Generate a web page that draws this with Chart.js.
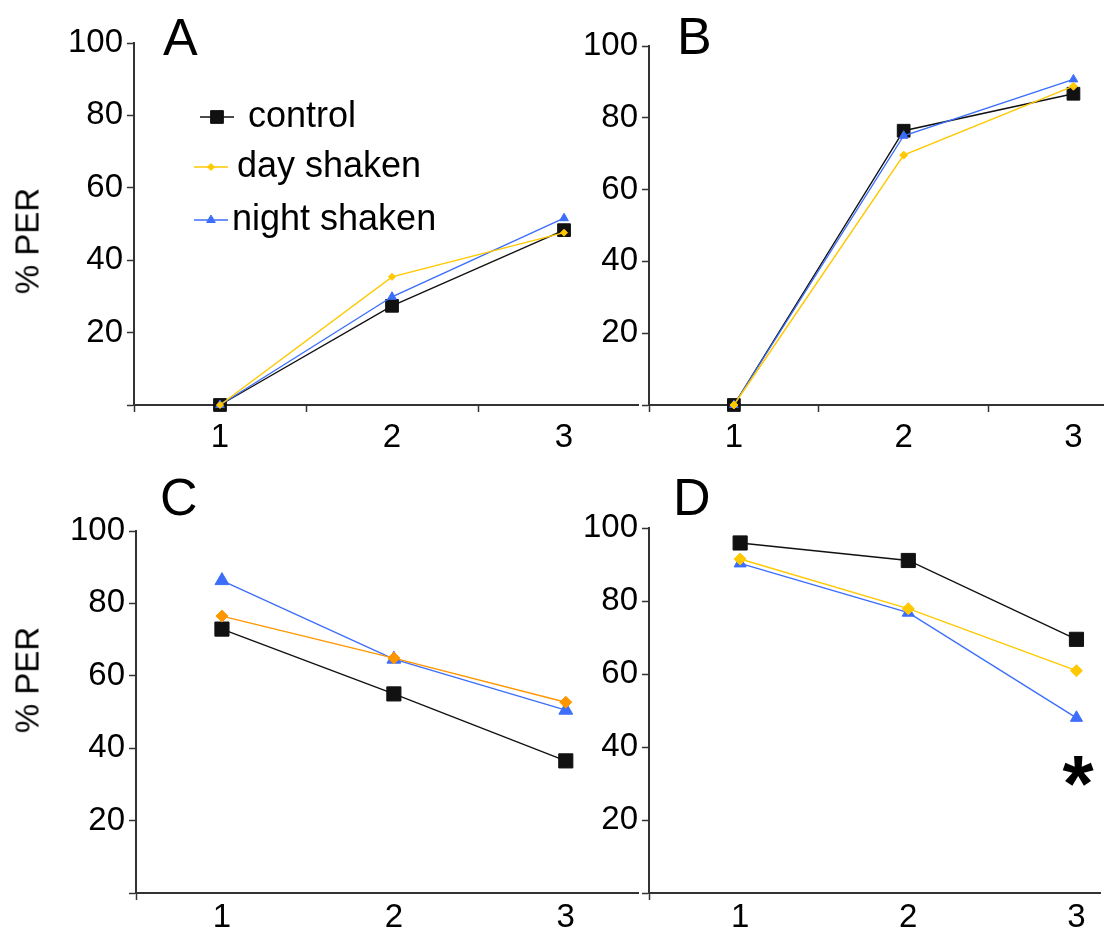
<!DOCTYPE html>
<html>
<head>
<meta charset="utf-8">
<script src="https://cdn.jsdelivr.net/npm/chart.js@4.4.1/dist/chart.umd.min.js"></script>
<style>
  html, body { margin: 0; padding: 0; background: #fff; }
  body { width: 1104px; height: 936px; position: relative; overflow: hidden; font-family: "Liberation Sans", Arial, sans-serif; }
  canvas { position: absolute; }
  .txt { position: absolute; color: #000; line-height: 1; white-space: nowrap; }
  .letter { font-size: 52px; }
  .ytitle { font-size: 33px; transform: translate(-50%, -50%) rotate(-90deg); }
  .star { font-size: 80px; font-weight: bold; width: 40px; text-align: center; }
</style>
</head>
<body>
<canvas id="chartA" width="640" height="460" style="left:0;top:0"></canvas>
<canvas id="chartB" width="544" height="460" style="left:560px;top:0"></canvas>
<canvas id="chartC" width="640" height="476" style="left:0;top:460px"></canvas>
<canvas id="chartD" width="544" height="476" style="left:560px;top:460px"></canvas>

<div class="txt letter" style="left:163px;top:11px">A</div>
<div class="txt letter" style="left:677px;top:10px">B</div>
<div class="txt letter" style="left:160px;top:471px">C</div>
<div class="txt letter" style="left:673px;top:471px">D</div>
<div class="txt ytitle" style="left:27px;top:241px">% PER</div>
<div class="txt ytitle" style="left:27px;top:680px">% PER</div>
<div class="txt star" style="left:1058px;top:744px">*</div>

<script>
const FONT = "'Liberation Sans', Arial, sans-serif"

// test sessions on the x axis
const sessions = [1, 2, 3]
const seriesNames = ["control", "day shaken", "night shaken"]

// % PER (sessions 1..3)
const controlA = [0, 27.4, 48.3]
const dayA = [0, 35.4, 47.6]
const nightA = [0, 29.9, 51.6]

const controlB = [0, 76.4, 86.7]
const dayB = [0, 69.6, 88.8]
const nightB = [0, 75.0, 90.7]

const controlC = [72.9, 55.0, 36.5]
const dayC = [76.5, 64.9, 52.7]
const nightC = [86.3, 64.6, 50.5]

const controlD = [95.9, 91.1, 69.5]
const dayD = [91.5, 77.9, 60.9]
const nightD = [90.3, 76.8, 48.0]

const yTicks = [0, 20, 40, 60, 80, 100]

const BLACK = "#111"
const YELLOW = "rgb(255, 200, 0)"
const ORANGE = "rgb(255, 150, 0)"
const BLUE = "rgb(60, 110, 250)"

// draws the legend inside panel A, using the dataset styles
const insideLegend = {
  id: "insideLegend",
  afterDraw(chart, args, opts) {
    if (!opts.items) return
    const ctx = chart.ctx
    ctx.save()
    opts.items.forEach((item, i) => {
      const ds = chart.data.datasets[i]
      ctx.strokeStyle = ds.borderColor
      ctx.lineWidth = ds.borderWidth
      ctx.beginPath()
      ctx.moveTo(item.x0, item.y)
      ctx.lineTo(item.x1, item.y)
      ctx.stroke()
      ctx.fillStyle = ds.pointBackgroundColor
      ctx.strokeStyle = ds.pointBorderColor
      ctx.lineWidth = 1
      Chart.helpers.drawPoint(ctx, { pointStyle: ds.pointStyle, radius: item.r, rotation: 0, borderWidth: 1 }, item.mx, item.y)
      ctx.fillStyle = "#000"
      ctx.font = opts.font
      ctx.textBaseline = "middle"
      ctx.textAlign = "left"
      ctx.fillText(ds.label, item.tx, item.y)
    })
    ctx.restore()
  }
}

function toPoints(values) {
  return sessions.map((s, i) => ({ x: s, y: values[i] }))
}

function series(label, values, color, style, radius, order) {
  return {
    label,
    data: toPoints(values),
    borderColor: color,
    backgroundColor: color,
    borderWidth: 1.4,
    pointStyle: style,
    pointRadius: radius,
    pointHoverRadius: radius,
    pointBorderWidth: 1,
    pointBorderColor: color,
    pointBackgroundColor: color,
    clip: false,
    order
  }
}

// keep the plot area exactly where the axes sit in the figure
function fixBox(s, size) {
  if (s.isHorizontal()) s.height = size
  else s.width = size
  s.paddingLeft = 0
  s.paddingRight = 0
  s.paddingTop = 0
  s.paddingBottom = 0
}

function makeChart(id, p) {
  return new Chart(document.getElementById(id), {
    type: "line",
    data: {
      datasets: [
        series(seriesNames[0], p.control, BLACK, "rect", p.rCtrl, 3),
        series(seriesNames[1], p.day, p.dayColor, "rectRot", p.rDay, 1),
        series(seriesNames[2], p.night, BLUE, "triangle", p.rNight, 2)
      ]
    },
    options: {
      responsive: false,
      animation: false,
      events: [],
      layout: { autoPadding: false, padding: { top: p.padTop, right: p.padRight, left: 0, bottom: 0 } },
      plugins: {
        legend: { display: false },
        tooltip: { enabled: false },
        insideLegend: p.legend || {}
      },
      scales: {
        x: {
          type: "linear",
          min: p.xMin,
          max: p.xMax,
          afterBuildTicks: (s) => { s.ticks = p.xTicks.map((v) => ({ value: v })) },
          afterFit: (s) => fixBox(s, p.xAxisH),
          grid: {
            drawOnChartArea: false,
            tickLength: 7,
            tickWidth: 1.5,
            tickColor: (c) => Number.isInteger(c.tick.value) ? "rgba(0,0,0,0)" : "#333"
          },
          border: { color: "#333", width: 2 },
          ticks: {
            color: "#000",
            font: { size: 33, family: FONT, lineHeight: 1 },
            padding: p.xPad,
            maxRotation: 0,
            autoSkip: false,
            callback: (v) => Number.isInteger(v) ? String(v) : ""
          }
        },
        y: {
          min: 0,
          max: 100,
          afterBuildTicks: (s) => { s.ticks = yTicks.map((v) => ({ value: v })) },
          afterFit: (s) => fixBox(s, p.yAxisW),
          grid: { drawOnChartArea: false, tickLength: 7, tickWidth: 1.5, tickColor: "#333" },
          border: { color: "#333", width: 2 },
          ticks: {
            color: "#000",
            font: { size: 33, family: FONT, lineHeight: 1 },
            padding: 4,
            callback: (v) => v === 0 ? "" : String(v)
          }
        }
      }
    },
    plugins: [insideLegend]
  })
}

makeChart("chartA", {
  control: controlA, day: dayA, night: nightA, dayColor: YELLOW,
  rCtrl: 9, rDay: 3.5, rNight: 5,
  xMin: 0.5, xMax: 3.43, xTicks: [0.5, 1, 1.5, 2, 2.5, 3],
  padTop: 43, padRight: 2, xAxisH: 55, yAxisW: 134, xPad: 9,
  legend: {
    font: "36px " + FONT,
    items: [
      { x0: 200, x1: 234, mx: 217, y: 117, tx: 248, r: 9 },
      { x0: 194, x1: 228, mx: 211, y: 167, tx: 237, r: 3.5 },
      { x0: 194, x1: 228, mx: 211, y: 220, tx: 232, r: 5 }
    ]
  }
})

makeChart("chartB", {
  control: controlB, day: dayB, night: nightB, dayColor: YELLOW,
  rCtrl: 9, rDay: 4, rNight: 5,
  xMin: 0.5, xMax: 3.18, xTicks: [0.5, 1, 1.5, 2, 2.5, 3],
  padTop: 46, padRight: 0, xAxisH: 55, yAxisW: 89, xPad: 9
})

makeChart("chartC", {
  control: controlC, day: dayC, night: nightC, dayColor: ORANGE,
  rCtrl: 10, rDay: 6, rNight: 8,
  xMin: 0.5, xMax: 3.42, xTicks: [0.5, 1, 2, 3],
  padTop: 71, padRight: 2, xAxisH: 43, yAxisW: 136, xPad: 1
})

makeChart("chartD", {
  control: controlD, day: dayD, night: nightD, dayColor: YELLOW,
  rCtrl: 10, rDay: 6, rNight: 7,
  xMin: 0.458, xMax: 3.14, xTicks: [0.458, 1, 2, 3],
  padTop: 68, padRight: 4, xAxisH: 43, yAxisW: 89, xPad: 1
})
</script>
</body>
</html>
